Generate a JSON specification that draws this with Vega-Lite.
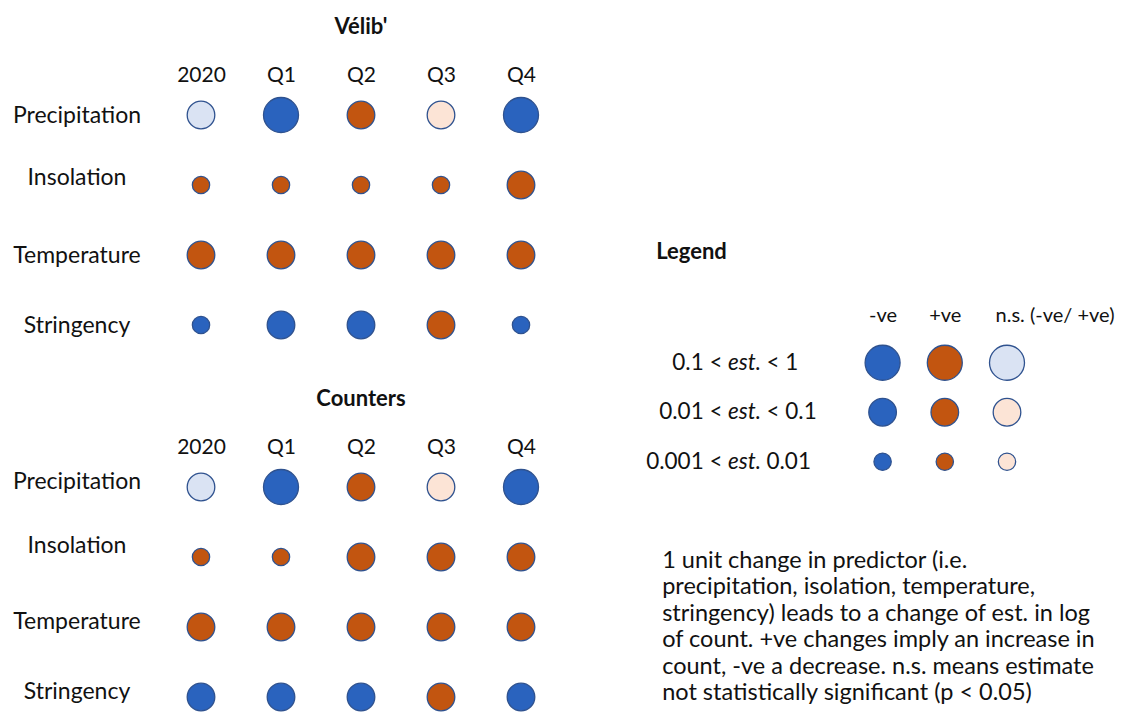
{
  "$schema": "https://vega.github.io/schema/vega-lite/v6.json",
  "autosize": {"type": "pad"},
  "padding": {"left": 12, "top": 15, "right": 5, "bottom": 4},
  "background": "white",
  "spacing": 84.5,
  "config": {
    "font": "Lato",
    "view": {"stroke": null},
    "axis": {"domain": false, "ticks": false, "tickSize": 0, "grid": false, "title": null, "labelColor": "#111111", "labelFont": "Lato", "labelFontSize": 23, "labelAngle": 0},
    "title": {"font": "Lato", "fontWeight": "bold", "fontSize": 22, "color": "#111111"}
  },
  "datasets": {
    "obs": [
      {"panel": "Vélib'", "predictor": "Precipitation", "period": "2020", "sign": "n.s. (-ve)", "magnitude": "0.01-0.1"},
      {"panel": "Vélib'", "predictor": "Precipitation", "period": "Q1", "sign": "-ve", "magnitude": "0.1-1"},
      {"panel": "Vélib'", "predictor": "Precipitation", "period": "Q2", "sign": "+ve", "magnitude": "0.01-0.1"},
      {"panel": "Vélib'", "predictor": "Precipitation", "period": "Q3", "sign": "n.s. (+ve)", "magnitude": "0.01-0.1"},
      {"panel": "Vélib'", "predictor": "Precipitation", "period": "Q4", "sign": "-ve", "magnitude": "0.1-1"},
      {"panel": "Vélib'", "predictor": "Insolation", "period": "2020", "sign": "+ve", "magnitude": "0.001-0.01"},
      {"panel": "Vélib'", "predictor": "Insolation", "period": "Q1", "sign": "+ve", "magnitude": "0.001-0.01"},
      {"panel": "Vélib'", "predictor": "Insolation", "period": "Q2", "sign": "+ve", "magnitude": "0.001-0.01"},
      {"panel": "Vélib'", "predictor": "Insolation", "period": "Q3", "sign": "+ve", "magnitude": "0.001-0.01"},
      {"panel": "Vélib'", "predictor": "Insolation", "period": "Q4", "sign": "+ve", "magnitude": "0.01-0.1"},
      {"panel": "Vélib'", "predictor": "Temperature", "period": "2020", "sign": "+ve", "magnitude": "0.01-0.1"},
      {"panel": "Vélib'", "predictor": "Temperature", "period": "Q1", "sign": "+ve", "magnitude": "0.01-0.1"},
      {"panel": "Vélib'", "predictor": "Temperature", "period": "Q2", "sign": "+ve", "magnitude": "0.01-0.1"},
      {"panel": "Vélib'", "predictor": "Temperature", "period": "Q3", "sign": "+ve", "magnitude": "0.01-0.1"},
      {"panel": "Vélib'", "predictor": "Temperature", "period": "Q4", "sign": "+ve", "magnitude": "0.01-0.1"},
      {"panel": "Vélib'", "predictor": "Stringency", "period": "2020", "sign": "-ve", "magnitude": "0.001-0.01"},
      {"panel": "Vélib'", "predictor": "Stringency", "period": "Q1", "sign": "-ve", "magnitude": "0.01-0.1"},
      {"panel": "Vélib'", "predictor": "Stringency", "period": "Q2", "sign": "-ve", "magnitude": "0.01-0.1"},
      {"panel": "Vélib'", "predictor": "Stringency", "period": "Q3", "sign": "+ve", "magnitude": "0.01-0.1"},
      {"panel": "Vélib'", "predictor": "Stringency", "period": "Q4", "sign": "-ve", "magnitude": "0.001-0.01"},
      {"panel": "Counters", "predictor": "Precipitation", "period": "2020", "sign": "n.s. (-ve)", "magnitude": "0.01-0.1"},
      {"panel": "Counters", "predictor": "Precipitation", "period": "Q1", "sign": "-ve", "magnitude": "0.1-1"},
      {"panel": "Counters", "predictor": "Precipitation", "period": "Q2", "sign": "+ve", "magnitude": "0.01-0.1"},
      {"panel": "Counters", "predictor": "Precipitation", "period": "Q3", "sign": "n.s. (+ve)", "magnitude": "0.01-0.1"},
      {"panel": "Counters", "predictor": "Precipitation", "period": "Q4", "sign": "-ve", "magnitude": "0.1-1"},
      {"panel": "Counters", "predictor": "Insolation", "period": "2020", "sign": "+ve", "magnitude": "0.001-0.01"},
      {"panel": "Counters", "predictor": "Insolation", "period": "Q1", "sign": "+ve", "magnitude": "0.001-0.01"},
      {"panel": "Counters", "predictor": "Insolation", "period": "Q2", "sign": "+ve", "magnitude": "0.01-0.1"},
      {"panel": "Counters", "predictor": "Insolation", "period": "Q3", "sign": "+ve", "magnitude": "0.01-0.1"},
      {"panel": "Counters", "predictor": "Insolation", "period": "Q4", "sign": "+ve", "magnitude": "0.01-0.1"},
      {"panel": "Counters", "predictor": "Temperature", "period": "2020", "sign": "+ve", "magnitude": "0.01-0.1"},
      {"panel": "Counters", "predictor": "Temperature", "period": "Q1", "sign": "+ve", "magnitude": "0.01-0.1"},
      {"panel": "Counters", "predictor": "Temperature", "period": "Q2", "sign": "+ve", "magnitude": "0.01-0.1"},
      {"panel": "Counters", "predictor": "Temperature", "period": "Q3", "sign": "+ve", "magnitude": "0.01-0.1"},
      {"panel": "Counters", "predictor": "Temperature", "period": "Q4", "sign": "+ve", "magnitude": "0.01-0.1"},
      {"panel": "Counters", "predictor": "Stringency", "period": "2020", "sign": "-ve", "magnitude": "0.01-0.1"},
      {"panel": "Counters", "predictor": "Stringency", "period": "Q1", "sign": "-ve", "magnitude": "0.01-0.1"},
      {"panel": "Counters", "predictor": "Stringency", "period": "Q2", "sign": "-ve", "magnitude": "0.01-0.1"},
      {"panel": "Counters", "predictor": "Stringency", "period": "Q3", "sign": "+ve", "magnitude": "0.01-0.1"},
      {"panel": "Counters", "predictor": "Stringency", "period": "Q4", "sign": "-ve", "magnitude": "0.01-0.1"}
    ],
    "key": [
      {"column": "-ve", "range": "0.1-1", "sign": "-ve", "magnitude": "0.1-1"},
      {"column": "+ve", "range": "0.1-1", "sign": "+ve", "magnitude": "0.1-1"},
      {"column": "n.s.", "range": "0.1-1", "sign": "n.s. (-ve)", "magnitude": "0.1-1"},
      {"column": "-ve", "range": "0.01-0.1", "sign": "-ve", "magnitude": "0.01-0.1"},
      {"column": "+ve", "range": "0.01-0.1", "sign": "+ve", "magnitude": "0.01-0.1"},
      {"column": "n.s.", "range": "0.01-0.1", "sign": "n.s. (+ve)", "magnitude": "0.01-0.1"},
      {"column": "-ve", "range": "0.001-0.01", "sign": "-ve", "magnitude": "0.001-0.01"},
      {"column": "+ve", "range": "0.001-0.01", "sign": "+ve", "magnitude": "0.001-0.01"},
      {"column": "n.s.", "range": "0.001-0.01", "sign": "n.s. (+ve)", "magnitude": "0.001-0.01"}
    ],
    "keylabels": [
      {"range": "0.1-1", "part": "pre", "text": "0.1 <"},
      {"range": "0.1-1", "part": "est", "text": "est."},
      {"range": "0.1-1", "part": "post", "text": "< 1"},
      {"range": "0.01-0.1", "part": "pre", "text": "0.01 <"},
      {"range": "0.01-0.1", "part": "est", "text": "est."},
      {"range": "0.01-0.1", "part": "post", "text": "< 0.1"},
      {"range": "0.001-0.01", "part": "pre", "text": "0.001 <"},
      {"range": "0.001-0.01", "part": "est", "text": "est."},
      {"range": "0.001-0.01", "part": "post", "text": "0.01"}
    ]
  },
  "hconcat": [
    {
      "bounds": "flush",
      "spacing": 120,
      "vconcat": [
        {
          "title": {"text": "Vélib'", "anchor": "middle", "baseline": "alphabetic", "offset": 8.5},
          "width": 400,
          "height": 252,
          "data": {"name": "obs"},
          "transform": [{"filter": "datum.panel === \"Vélib'\""}],
          "mark": {"type": "circle", "opacity": 1, "stroke": "#2F528F", "strokeWidth": 1.3},
          "encoding": {
            "x": {"field": "period", "type": "nominal", "sort": ["2020", "Q1", "Q2", "Q3", "Q4"], "scale": {"type": "point", "padding": 0.5}, "axis": {"orient": "top", "labelPadding": 9, "labelFontSize": 21}},
            "y": {"field": "predictor", "type": "nominal", "sort": ["Precipitation", "Insolation", "Temperature", "Stringency"], "scale": {"type": "point", "padding": 0.3}, "axis": {"labelAlign": "center", "labelBaseline": "middle", "labelPadding": 84.5, "labelOffset": {"condition": {"test": "datum.value === 'Insolation'", "value": -8}, "value": 0}}},
            "size": {"field": "magnitude", "type": "ordinal", "scale": {"domain": ["0.1-1", "0.01-0.1", "0.001-0.01"], "range": [1225, 300, 64]}, "legend": null},
            "fill": {"field": "sign", "type": "nominal", "scale": {"domain": ["-ve", "+ve", "n.s. (-ve)", "n.s. (+ve)"], "range": ["#2A63BE", "#C25510", "#DAE3F3", "#FCE4D6"]}, "legend": null}
          }
        },
        {
          "title": {"text": "Counters", "anchor": "middle", "baseline": "alphabetic", "offset": 8.5},
          "width": 400,
          "height": 252,
          "data": {"name": "obs"},
          "transform": [{"filter": "datum.panel === 'Counters'"}],
          "mark": {"type": "circle", "opacity": 1, "stroke": "#2F528F", "strokeWidth": 1.3},
          "encoding": {
            "x": {"field": "period", "type": "nominal", "sort": ["2020", "Q1", "Q2", "Q3", "Q4"], "scale": {"type": "point", "padding": 0.5}, "axis": {"orient": "top", "labelPadding": 9, "labelFontSize": 21}},
            "y": {"field": "predictor", "type": "nominal", "sort": ["Precipitation", "Insolation", "Temperature", "Stringency"], "scale": {"type": "point", "padding": 0.3}, "axis": {"labelAlign": "center", "labelBaseline": "middle", "labelPadding": 84.5, "labelOffset": {"condition": {"test": "datum.value === 'Insolation'", "value": -12}, "value": -6}}},
            "size": {"field": "magnitude", "type": "ordinal", "scale": {"domain": ["0.1-1", "0.01-0.1", "0.001-0.01"], "range": [1225, 300, 64]}, "legend": null},
            "fill": {"field": "sign", "type": "nominal", "scale": {"domain": ["-ve", "+ve", "n.s. (-ve)", "n.s. (+ve)"], "range": ["#2A63BE", "#C25510", "#DAE3F3", "#FCE4D6"]}, "legend": null}
          }
        }
      ]
    },
    {
      "title": {
        "text": ["1 unit change in predictor (i.e.", "precipitation, isolation, temperature,", "stringency) leads to a change of est.  in log", "of count. +ve changes imply an increase in", "count, -ve a decrease. n.s. means estimate", "not statistically significant (p < 0.05)"],
        "orient": "bottom", "anchor": "start", "frame": "bounds", "baseline": "alphabetic", "offset": 81, "dx": 16,
        "fontWeight": "normal", "fontSize": 23.5, "lineHeight": 26.5
      },
      "spacing": 20,
      "vconcat": [
        {
          "width": 16,
          "height": 127,
          "data": {"values": []},
          "mark": {"type": "point", "opacity": 0},
          "encoding": {}
        },
        {
          "title": {"text": "Legend", "anchor": "start", "frame": "bounds", "baseline": "alphabetic", "offset": 24, "dx": 10},
          "spacing": 34,
          "hconcat": [
            {
              "width": 88,
              "height": 148.5,
              "data": {"name": "keylabels"},
              "encoding": {
                "x": {"field": "part", "type": "nominal", "scale": {"type": "point", "domain": ["pre", "est", "post"], "padding": 1}, "axis": null},
                "y": {"field": "range", "type": "nominal", "scale": {"type": "point", "domain": ["0.1-1", "0.01-0.1", "0.001-0.01"], "padding": 0.5}, "axis": null},
                "text": {"field": "text"}
              },
              "layer": [
                {"transform": [{"filter": "datum.part === 'pre'"}], "mark": {"type": "text", "align": "right", "baseline": "middle", "fontSize": 22.5, "color": "#111111"}},
                {"transform": [{"filter": "datum.part === 'est'"}], "mark": {"type": "text", "align": "center", "baseline": "middle", "fontSize": 22.5, "fontStyle": "italic", "color": "#111111"}},
                {"transform": [{"filter": "datum.part === 'post'"}], "mark": {"type": "text", "align": "left", "baseline": "middle", "fontSize": 22.5, "color": "#111111"}}
              ]
            },
            {
              "width": 186.6,
              "height": 148.5,
              "data": {"name": "key"},
              "mark": {"type": "circle", "opacity": 1, "stroke": "#2F528F", "strokeWidth": 1.3},
              "encoding": {
                "x": {"field": "column", "type": "nominal", "sort": ["-ve", "+ve", "n.s."], "scale": {"type": "point", "padding": 0.5}, "axis": {"orient": "top", "labelPadding": 13, "labelFontSize": 20, "labelExpr": "datum.value === 'n.s.' ? 'n.s. (-ve/ +ve)' : datum.value", "labelAlign": {"condition": {"test": "datum.value === 'n.s.'", "value": "left"}, "value": "center"}, "labelOffset": {"condition": {"test": "datum.value === 'n.s.'", "value": -12}, "value": 0}}},
                "y": {"field": "range", "type": "nominal", "scale": {"type": "point", "domain": ["0.1-1", "0.01-0.1", "0.001-0.01"], "padding": 0.5}, "axis": null},
                "size": {"field": "magnitude", "type": "ordinal", "scale": {"domain": ["0.1-1", "0.01-0.1", "0.001-0.01"], "range": [1260, 314, 71]}, "legend": null},
                "fill": {"field": "sign", "type": "nominal", "scale": {"domain": ["-ve", "+ve", "n.s. (-ve)", "n.s. (+ve)"], "range": ["#2A63BE", "#C25510", "#DAE3F3", "#FCE4D6"]}, "legend": null}
              }
            }
          ]
        }
      ]
    }
  ]
}
